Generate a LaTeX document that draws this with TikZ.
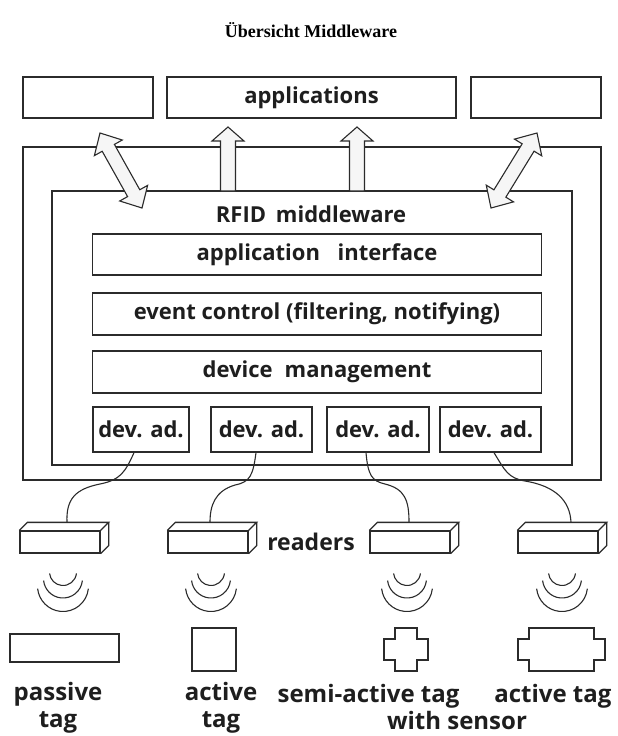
\documentclass[tikz,border=0pt]{standalone}
\usepackage{fontspec}
\setmainfont{Open Sans}
\newfontfamily\lblfont{Open Sans}
\newfontfamily\ttlfont{Liberation Serif}
\usetikzlibrary{calc}

\definecolor{ink}{HTML}{2B2B2B}
\definecolor{txt}{HTML}{1E1E1E}
\definecolor{arrowfill}{HTML}{F6F6F6}

% double-headed block arrow between two named points:
% #1,#2 tips, #3 head length, #4 shaft half-width, #5 head half-width
\newcommand{\twoheaded}[5]{%
  \coordinate (#1h) at ($(#1)!#3!(#2)$);
  \coordinate (#2h) at ($(#2)!#3!(#1)$);
  \draw[arrowbody] (#1) -- ($(#1h)!#5!90:(#2)$) -- ($(#1h)!#4!90:(#2)$)
    -- ($(#2h)!#4!-90:(#1)$) -- ($(#2h)!#5!-90:(#1)$) -- (#2)
    -- ($(#2h)!#5!90:(#1)$) -- ($(#2h)!#4!90:(#1)$)
    -- ($(#1h)!#4!-90:(#2)$) -- ($(#1h)!#5!-90:(#2)$) -- cycle;}

% upward block arrow from a base point to a tip point (same x)
\newcommand{\upblock}[2]{%
  \draw[arrowbody] ($(#1)+(-7.5,0)$) -- ($(#2)+(-7.5,14)$) -- ($(#2)+(-16,14)$)
    -- (#2) -- ($(#2)+(16,14)$) -- ($(#2)+(7.5,14)$) -- ($(#1)+(7.5,0)$) -- cycle;}

\begin{document}
\begin{tikzpicture}[x=1pt,y=-1pt,
    line/.style={draw=ink, line width=1.3pt, line join=miter},
    box/.style={line, rectangle, inner sep=0pt, fill=white},
    lbl/.style={font=\lblfont\bfseries\fontsize{22}{26}\selectfont, text=txt},
    taglbl/.style={font=\lblfont\bfseries\fontsize{24}{27}\selectfont, text=txt, align=center},
    arrowbody/.style={draw=ink, line width=1.1pt, fill=arrowfill, line join=miter},
    cable/.style={draw=ink, line width=1.1pt},
    wave/.style={draw=ink, line width=1.1pt}]
\useasboundingbox (0,0) rectangle (618,736);

% title
\node[font=\ttlfont\bfseries\fontsize{18}{22}\selectfont] (title) at (311,30) {Übersicht Middleware};

% application boxes
\node[box, minimum width=130, minimum height=41] (app1) at (88,97.5) {};
\node[box, minimum width=289, minimum height=41, lbl] (app2) at (311.5,97.5) {applications};
\node[box, minimum width=130, minimum height=41] (app3) at (536,97.5) {};

% middleware frames
\node[box, minimum width=578, minimum height=333] (outer) at (312,313.5) {};
\node[box, minimum width=520, minimum height=274] (inner) at (312,328) {};
\node[lbl] (mwtitle) at (311,214) {RFID\hspace{0.45em}middleware};

% layers
\node[box, minimum width=449, minimum height=41, lbl] (api) at (317,254.5) {application\hspace{0.8em}interface};
\node[box, minimum width=449, minimum height=42, lbl] (evt) at (317,314) {event control (filtering, notifying)};
\node[box, minimum width=449, minimum height=42, lbl] (dev) at (317,372) {device\hspace{0.55em}management};

% device adapters
\node[box, minimum width=96, minimum height=45, lbl] (d1) at (141,429.5) {dev. ad.};
\node[box, minimum width=101, minimum height=45, lbl] (d2) at (261.5,429.5) {dev. ad.};
\node[box, minimum width=102, minimum height=45, lbl] (d3) at (378,429.5) {dev. ad.};
\node[box, minimum width=101, minimum height=45, lbl] (d4) at (490.5,429.5) {dev. ad.};

% block arrows between middleware and applications
\coordinate (la) at (100,133);
\coordinate (lb) at (142,208);
\coordinate (ra) at (537,133);
\coordinate (rb) at (491,208);
\twoheaded{la}{lb}{17pt}{7pt}{16pt}
\twoheaded{ra}{rb}{17pt}{7pt}{16pt}
\coordinate (ub1) at (228,191);
\coordinate (ut1) at (228,127);
\coordinate (ub2) at (357,191);
\coordinate (ut2) at (357,127);
\upblock{ub1}{ut1}
\upblock{ub2}{ut2}

% readers (front faces as nodes, depth drawn on top)
\node[box, minimum width=80, minimum height=22] (r1) at (60,542) {};
\node[box, minimum width=80, minimum height=22] (r2) at (208,542) {};
\node[box, minimum width=80, minimum height=22] (r3) at (410,542) {};
\node[box, minimum width=80, minimum height=22] (r4) at (558,542) {};
\foreach \r in {r1,r2,r3,r4}{
  \draw[line] (\r.north west) -- ++(8,-8) -- ($(\r.north east)+(8,-8)$) -- (\r.north east);
  \draw[line] ($(\r.north east)+(8,-8)$) -- ($(\r.south east)+(8,-8)$) -- (\r.south east);
}
\node[lbl, font=\lblfont\bfseries\fontsize{23}{26}\selectfont] (readers) at (311,542) {readers};

% cables from adapters to readers
\coordinate (c1) at ($(r1.north)+(7,-8)$);
\coordinate (c2) at ($(r2.north)+(2,-8)$);
\coordinate (c3) at ($(r3.north)+(-1,-8)$);
\coordinate (c4) at ($(r4.north)+(13,-8)$);
\draw[cable] ([xshift=-7pt]d1.south) .. controls +(-9,20) and +(20,-4) .. (100,484)
   .. controls +(-25,5) and +(-1,-23) .. (c1);
\draw[cable] ([xshift=-5.5pt]d2.south) .. controls +(-3,23) and +(15,-3) .. (235,485)
   .. controls +(-20,6) and +(0,-17) .. (c2);
\draw[cable] ([xshift=-12pt]d3.south) .. controls +(2,23) and +(-13,-3) .. (385,484)
   .. controls +(20,5) and +(0,-22) .. (c3);
\draw[cable] ([xshift=3.5pt]d4.south) .. controls +(11,18) and +(-17,-3) .. (525,481)
   .. controls +(30,5) and +(-1,-22) .. (c4);

% radio waves
\foreach \cx in {63,211,407,562}{
  \draw[wave] (\cx,572) ++(6:13.5) arc[start angle=6, end angle=174, radius=13.5];
  \draw[wave] (\cx,578.5) ++(6:19.5) arc[start angle=6, end angle=174, radius=19.5];
  \draw[wave] (\cx,586) ++(6:25.5) arc[start angle=6, end angle=174, radius=25.5];
}

% tags
\node[box, minimum width=109, minimum height=28] (t1) at (64.5,648) {};
\node[box, minimum width=44, minimum height=43] (t2) at (214,649.5) {};
\coordinate (t3) at (406,649.5);
\draw[line, shift={(t3)}] (-11,-21.5) -- (11,-21.5) -- (11,-10.5) -- (22,-10.5) -- (22,10.5)
   -- (11,10.5) -- (11,21.5) -- (-11,21.5) -- (-11,10.5) -- (-22,10.5) -- (-22,-10.5)
   -- (-11,-10.5) -- cycle;
\coordinate (t4) at (561.5,649.5);
\draw[line, shift={(t4)}] (-32.5,-21.5) -- (32.5,-21.5) -- (32.5,-10.5) -- (43.5,-10.5) -- (43.5,10.5)
   -- (32.5,10.5) -- (32.5,21.5) -- (-32.5,21.5) -- (-32.5,10.5) -- (-43.5,10.5) -- (-43.5,-10.5)
   -- (-32.5,-10.5) -- cycle;

% tag labels
\node[taglbl] (l1) at (58,708) {passive\\tag};
\node[taglbl] (l2) at (221,708) {active\\tag};
\node[taglbl, anchor=base east] (l3) at (463,702) {semi-active tag};
\node[taglbl, anchor=base east] (l4) at (615,702) {active tag};
\node[taglbl, anchor=base] (l5) at (457,729) {with sensor};
\end{tikzpicture}
\end{document}
